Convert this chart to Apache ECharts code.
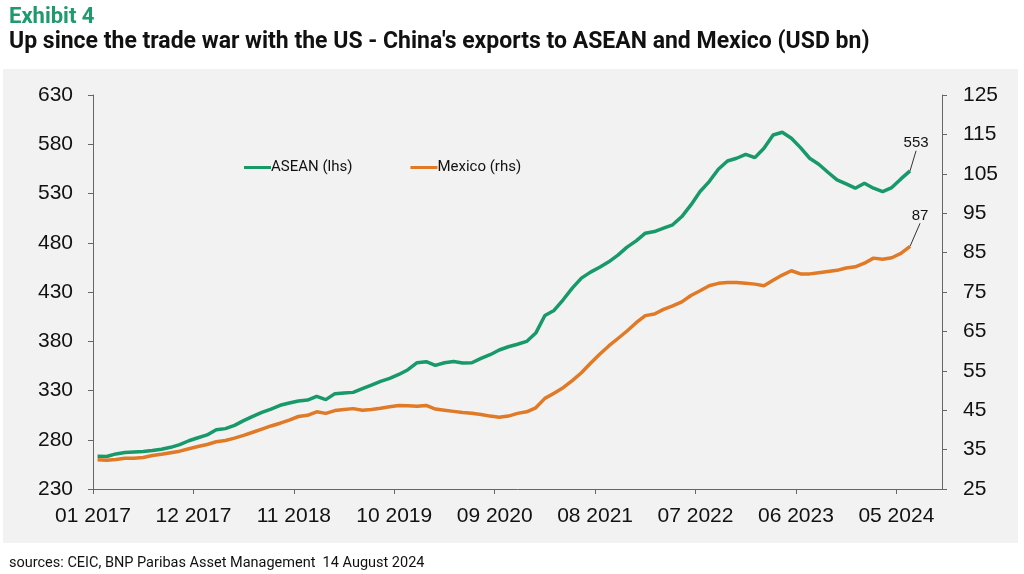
<!DOCTYPE html>
<html>
<head>
<meta charset="utf-8">
<title>China exports to ASEAN and Mexico</title>
<script src="https://cdn.jsdelivr.net/npm/echarts@6/dist/echarts.min.js"></script>
<style>
  html, body { margin: 0; padding: 0; background: #fff; }
  #chart { width: 1024px; height: 574px; }
</style>
</head>
<body>
<div id="chart"></div>
<script>
// 12m rolling exports, USD bn, monthly from 01 2017 to 06 2024
var asean = [
  263.2, 263.0, 265.6, 267.0, 267.6, 268.0, 269.0, 270.3, 272.3, 275.0,
  279.0, 282.0, 284.9, 290.2, 291.3, 294.6, 299.4, 303.8, 307.8, 311.2,
  315.0, 317.3, 319.3, 320.3, 324.0, 320.7, 326.8, 327.5, 328.1, 331.8,
  335.5, 339.2, 342.3, 346.3, 351.1, 358.2, 359.2, 355.5, 358.2, 359.5,
  357.9, 358.2, 362.6, 366.3, 371.1, 374.4, 377.0, 379.8, 388.3, 406.2,
  411.3, 422.1, 434.0, 444.1, 450.2, 455.2, 460.6, 467.4, 475.5, 481.9,
  489.7, 491.4, 494.8, 498.2, 506.6, 518.4, 532.0, 542.1, 554.6, 563.0,
  565.8, 569.8, 566.4, 576.0, 589.4, 592.2, 586.1, 576.6, 565.8, 559.7,
  551.6, 543.8, 539.7, 535.4, 540.4, 535.4, 531.9, 536.0, 544.8, 553.0
];
var mexico = [
  32.4, 32.3, 32.5, 32.8, 32.8, 33.0, 33.5, 33.8, 34.2, 34.6,
  35.2, 35.8, 36.3, 37.0, 37.3, 37.9, 38.6, 39.4, 40.2, 41.0,
  41.7, 42.5, 43.4, 43.7, 44.6, 44.2, 44.9, 45.2, 45.4, 45.0,
  45.2, 45.5, 45.9, 46.2, 46.1, 46.0, 46.2, 45.3, 45.0, 44.7,
  44.4, 44.2, 43.9, 43.5, 43.2, 43.5, 44.2, 44.6, 45.6, 48.0,
  49.3, 50.7, 52.5, 54.5, 56.9, 59.2, 61.3, 63.2, 65.1, 67.2,
  69.0, 69.4, 70.6, 71.5, 72.5, 74.1, 75.3, 76.6, 77.2, 77.4,
  77.4, 77.2, 77.0, 76.6, 78.0, 79.3, 80.4, 79.6, 79.6, 79.9,
  80.2, 80.5, 81.1, 81.4, 82.3, 83.6, 83.3, 83.7, 84.8, 86.6
];
var seriesNames = ['ASEAN (lhs)', 'Mexico (rhs)'];
var colors = ['#17996a', '#e07a26'];

// month names along the axis, 01 2017 .. 10 2024; a label every 11 months
var months = [];
for (var k = 0; k < 94; k++) {
  var m = k % 12 + 1;
  months.push((m < 10 ? '0' + m : '' + m) + ' ' + (2017 + Math.floor(k / 12)));
}
var labelStep = 11;

var axisFont = { fontFamily: 'Liberation Sans', fontSize: 21, color: '#111' };
var axisLineStyle = { color: '#666', width: 1 };

// points sit mid-month; last point carries the value label
function toSeries(arr) {
  var out = arr.map(function (v, i) { return [i + 0.5, v]; });
  var last = out.length - 1;
  out[last] = {
    value: out[last],
    label: {
      show: true, position: 'top', color: '#111', fontSize: 15,
      fontFamily: 'Liberation Sans',
      formatter: function (p) { return Math.round(p.value[1]); }
    }
  };
  return out;
}

var chart = echarts.init(document.getElementById('chart'));
chart.setOption({
  animation: false,
  textStyle: { fontFamily: 'Liberation Sans' },
  title: [
    {
      text: 'Exhibit 4', left: 4, top: 1,
      textStyle: { color: '#1f9a6c', fontSize: 22, fontWeight: 'bold', fontFamily: 'Roboto' }
    },
    {
      text: "{b|Up since the trade war with the US - China's exports to ASEAN and Mexico}{n| (USD bn)}",
      left: 4, top: 26,
      textStyle: {
        rich: {
          b: { fontFamily: 'Roboto', fontWeight: 'bold', fontSize: 23, color: '#111' },
          n: { fontFamily: 'Roboto', fontSize: 23, color: '#111' }
        }
      }
    },
    {
      text: 'sources: CEIC, BNP Paribas Asset Management  14 August 2024',
      left: 4, top: 551,
      textStyle: { fontFamily: 'Roboto', fontSize: 14.5, fontWeight: 'normal', color: '#111' }
    }
  ],
  graphic: [{
    type: 'rect', z: -10, silent: true,
    shape: { x: 3, y: 69, width: 1015, height: 474 },
    style: { fill: '#f2f2f2' }
  }],
  legend: {
    left: 239, top: 155, itemGap: 58, itemWidth: 27, itemHeight: 3,
    icon: 'rect',
    data: seriesNames,
    textStyle: { fontFamily: 'Roboto', fontSize: 15, color: '#111', padding: [0, 0, 0, -5] }
  },
  grid: { left: 93, right: 82, top: 95, bottom: 85 },
  xAxis: {
    type: 'value', min: 0, max: months.length - 1, interval: labelStep,
    axisLine: { lineStyle: axisLineStyle },
    axisTick: { show: true, length: 5, lineStyle: axisLineStyle },
    axisLabel: Object.assign({
      margin: 17, showMaxLabel: false,
      formatter: function (v) { return v % labelStep === 0 ? months[v] : ''; }
    }, axisFont),
    splitLine: { show: false }
  },
  yAxis: [
    {
      type: 'value', min: 230, max: 630, interval: 50, position: 'left',
      axisLine: { show: true, lineStyle: axisLineStyle },
      axisTick: { show: true, length: 5, lineStyle: axisLineStyle },
      axisLabel: Object.assign({ margin: 20 }, axisFont),
      splitLine: { show: false }
    },
    {
      type: 'value', min: 25, max: 125, interval: 10, position: 'right',
      axisLine: { show: true, lineStyle: axisLineStyle },
      axisTick: { show: true, length: 5, lineStyle: axisLineStyle },
      axisLabel: Object.assign({ margin: 21 }, axisFont),
      splitLine: { show: false }
    }
  ],
  series: [
    {
      name: seriesNames[0], type: 'line', yAxisIndex: 0,
      data: toSeries(asean),
      showSymbol: true, symbol: 'circle', symbolSize: 0.1,
      lineStyle: { color: colors[0], width: 3.5 },
      itemStyle: { color: colors[0] },
      labelLine: { show: true, lineStyle: { color: '#333', width: 1 } },
      labelLayout: { dx: 6, dy: -15 }
    },
    {
      name: seriesNames[1], type: 'line', yAxisIndex: 1,
      data: toSeries(mexico),
      showSymbol: true, symbol: 'circle', symbolSize: 0.1,
      lineStyle: { color: colors[1], width: 3.5 },
      itemStyle: { color: colors[1] },
      labelLine: { show: true, lineStyle: { color: '#333', width: 1 } },
      labelLayout: { dx: 10, dy: -18 }
    }
  ]
});
</script>
</body>
</html>
